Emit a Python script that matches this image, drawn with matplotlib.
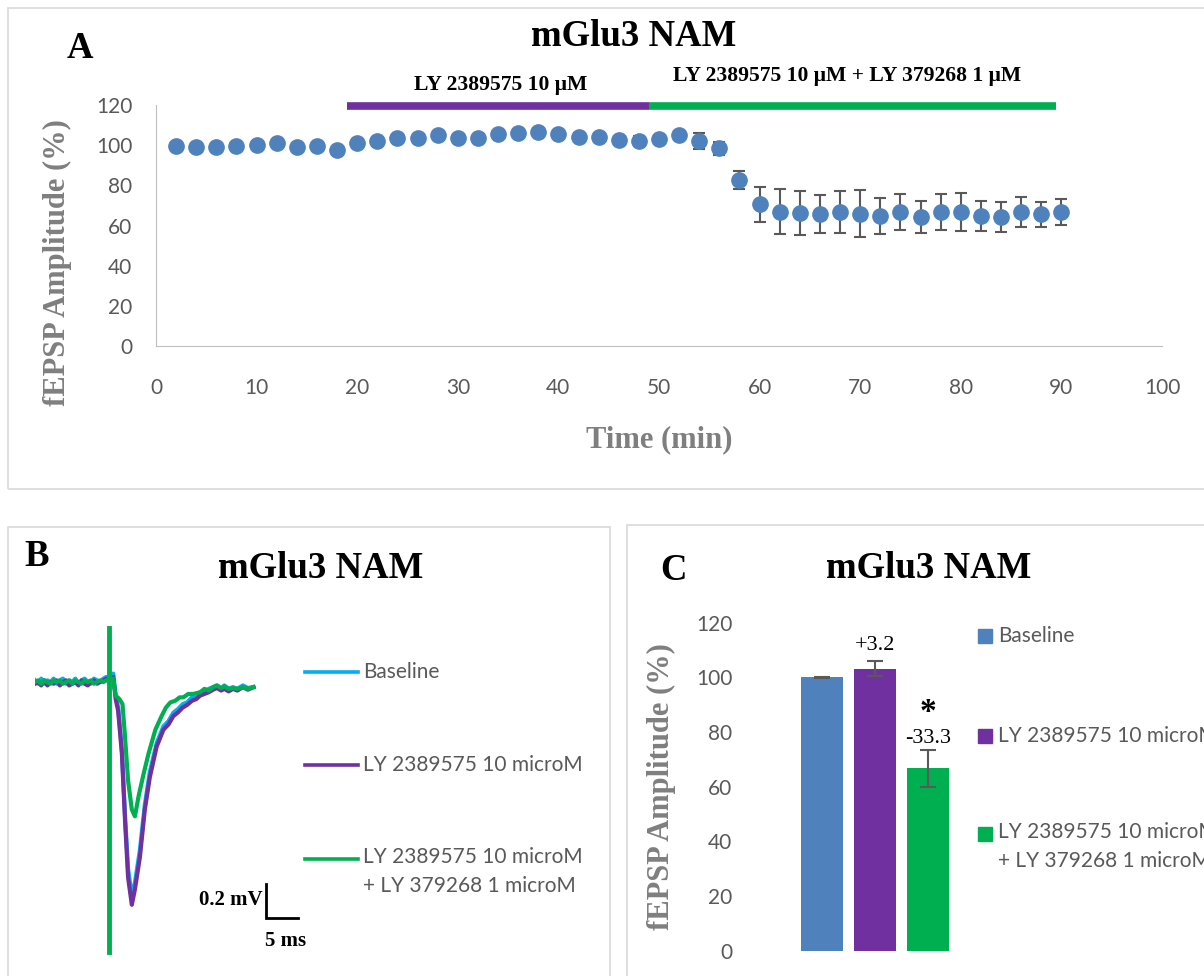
import matplotlib.pyplot as plt
from matplotlib.patches import Rectangle
from matplotlib.lines import Line2D

W, H = 1204, 976
SERIF = 'Liberation Serif'
SANS = 'Lato'
TICK_GRAY = '#595959'
LABEL_GRAY = '#7f7f7f'

# ---- panel A: time course ----
time_min = [2, 4, 6, 8, 10, 12, 14, 16, 18, 20, 22, 24, 26, 28, 30, 32, 34, 36, 38, 40, 42, 44, 46, 48,
            50, 52, 54, 56, 58, 60, 62, 64, 66, 68, 70, 72, 74, 76, 78, 80, 82, 84, 86, 88, 90]
amp_pct = [99.8, 98.9, 99.3, 99.8, 100.1, 101.2, 99.3, 99.8, 97.8, 100.9, 101.9, 103.7, 103.4, 105.0,
           103.4, 103.7, 105.5, 106.2, 106.5, 105.5, 104.2, 104.0, 102.7, 102.0,
           102.9, 105.3, 102.0, 98.4, 82.8, 70.5, 66.8, 66.3, 65.8, 66.7, 65.8, 64.7, 66.7, 64.2,
           66.7, 66.7, 64.7, 64.2, 66.7, 65.5, 66.8]
amp_sem = [0.5, 0.5, 0.5, 0.5, 0.5, 0.6, 0.5, 0.5, 0.6, 0.6, 0.7, 0.8, 0.8, 0.9, 1.5, 0.9, 0.9, 1.0,
           1.0, 1.0, 1.0, 1.0, 1.2, 2.5,
           1.0, 1.0, 4.1, 3.3, 4.4, 8.7, 11.2, 10.9, 9.5, 10.4, 11.7, 9.1, 9.0, 8.0, 8.8, 9.5, 7.5,
           7.3, 7.6, 6.4, 6.6]
drug_names = ['LY 2389575 10 μM', 'LY 2389575 10 μM + LY 379268 1 μM']
drug_start = [19, 49]
drug_end = [49, 89.5]
drug_colors = ['#7030A0', '#00B050']

# ---- panel B: example traces (ms, mV) ----
pre_t = [0, 0.5, 1.0, 1.5, 2.0, 2.5, 3.0, 3.5, 4.0, 4.5, 5.0, 5.5, 6.0, 6.5, 7.0, 7.5, 8.0, 8.5,
         9.0, 9.5, 10.0, 10.5, 11.0, 11.5]
pre_v_base = [0.01, -0.01, 0.02, -0.01, 0.01, 0.0, 0.02, -0.01, 0.01, 0.02, -0.01, 0.01, 0.0, 0.02,
              -0.01, 0.01, 0.02, 0.0, -0.01, 0.02, 0.01, 0.0, 0.02, 0.03]
pre_v_ly = [-0.01, 0.0, -0.02, 0.01, -0.02, 0.0, -0.01, 0.01, -0.02, 0.0, 0.01, -0.02, -0.01, 0.0,
            -0.02, 0.01, -0.01, -0.02, 0.0, 0.01, -0.01, 0.0, 0.01, 0.02]
pre_v_combo = [0.0, 0.01, -0.01, 0.01, 0.0, -0.01, 0.01, 0.0, 0.01, -0.01, 0.0, 0.01, -0.01, 0.01,
               0.0, -0.01, 0.01, 0.0, 0.01, -0.01, 0.0, 0.01, 0.0, 0.01]
resp_t = [12.0, 12.6, 13.0, 13.4, 14.0, 14.5, 15.0, 15.6, 16.1, 16.9, 17.7, 18.5, 19.6, 20.7, 21.5,
          22.3, 23.0, 23.8, 24.5, 25.3, 26.0, 26.6, 27.3, 28.0, 28.7, 29.3, 30.0, 30.5, 31.2, 31.9,
          32.6, 33.5, 34.3, 35.2]
resp_v_base = [0.02, 0.05, -0.08, -0.15, -0.40, -0.78, -1.10, -1.26, -1.18, -0.99, -0.72, -0.53,
               -0.36, -0.26, -0.23, -0.18, -0.16, -0.13, -0.12, -0.09, -0.09, -0.06, -0.06, -0.04,
               -0.03, -0.02, -0.04, -0.02, -0.04, -0.03, -0.04, -0.02, -0.035, -0.03]
resp_v_ly = [0.01, 0.03, -0.10, -0.17, -0.42, -0.81, -1.15, -1.31, -1.22, -1.03, -0.75, -0.56,
             -0.38, -0.28, -0.25, -0.20, -0.18, -0.15, -0.135, -0.11, -0.10, -0.08, -0.07, -0.06,
             -0.045, -0.035, -0.05, -0.04, -0.055, -0.04, -0.05, -0.03, -0.045, -0.03]
combo_resp_t = [12.0, 12.6, 13.0, 13.6, 14.1, 14.5, 15.0, 15.6, 16.1, 16.7, 17.5, 18.3, 19.4, 20.4,
                21.1, 21.8, 22.6, 23.3, 23.9, 24.7, 25.5, 26.6, 27.3, 28.0, 28.7, 29.3, 30.0, 30.5,
                31.2, 31.9, 32.6, 33.5, 34.3, 35.2]
resp_v_combo = [0.02, 0.02, -0.08, -0.10, -0.13, -0.32, -0.58, -0.75, -0.79, -0.67, -0.54, -0.42,
                -0.28, -0.20, -0.15, -0.12, -0.11, -0.09, -0.09, -0.07, -0.07, -0.06, -0.04, -0.05,
                -0.03, -0.02, -0.035, -0.025, -0.04, -0.035, -0.04, -0.03, -0.04, -0.03]
artifact_t = [11.9, 11.9]
artifact_v = [0.32, -1.59]
trace_names = ['Baseline', 'LY 2389575 10 microM', 'LY 2389575 10 microM\n+ LY 379268 1 microM']
trace_colors = ['#00B0F0', '#7030A0', '#00B050']
scale_ms = 5
scale_mv = 0.2

# ---- panel C: summary bars ----
bar_names = ['Baseline', 'LY 2389575 10 microM', 'LY 2389575 10 microM\n+ LY 379268 1 microM']
bar_mean = [100.0, 103.2, 66.7]
bar_sem = [0.3, 2.7, 6.8]
bar_change = ['', '+3.2', '-33.3']
bar_colors = ['#4F81BD', '#7030A0', '#00B050']
label_gap = [0, 5.8, 4.0]


def box(x0, y0, x1, y1):
    return [x0 / W, 1 - y1 / H, (x1 - x0) / W, (y1 - y0) / H]


def ftext(x, y, s, **kw):
    fig.text(x / W, 1 - y / H, s, **kw)


fig = plt.figure(figsize=(W / 100, H / 100), dpi=100)

# panel frames
for x0, y0, x1, y1 in [(8, 8, 1215, 489), (8, 527, 610, 990), (627, 525, 1215, 990)]:
    fig.add_artist(Rectangle((x0 / W, 1 - y1 / H), (x1 - x0) / W, (y1 - y0) / H,
                             transform=fig.transFigure, fill=False, edgecolor='#d9d9d9', lw=1.2))

# ---------------- A ----------------
axA = fig.add_axes(box(156, 105, 1162, 346))
axA.errorbar(time_min, amp_pct, yerr=amp_sem, fmt='o', ms=11, color='#4F81BD',
             ecolor='#595959', elinewidth=1.5, capsize=4.5, capthick=1.5, zorder=3)
for s, e, c in zip(drug_start, drug_end, drug_colors):
    axA.plot([s, e], [119.5, 119.5], color=c, lw=5.5, solid_capstyle='butt', clip_on=False)
ftext(501, 85, drug_names[0], ha='center', va='center', family=SERIF, weight='bold', fontsize=15.6)
ftext(847, 76, drug_names[1], ha='center', va='center', family=SERIF, weight='bold', fontsize=15.6)
axA.set_xlim(0, 100)
axA.set_ylim(0, 120)
axA.set_xticks(range(0, 101, 10))
axA.set_yticks(range(0, 121, 20))
axA.tick_params(length=0, labelsize=15, labelcolor=TICK_GRAY)
axA.tick_params(axis='y', pad=17)
axA.tick_params(axis='x', pad=23)
for lab in axA.get_xticklabels() + axA.get_yticklabels():
    lab.set_family(SANS)
for sp in ['top', 'right']:
    axA.spines[sp].set_visible(False)
for sp in ['left', 'bottom']:
    axA.spines[sp].set_color('#bfbfbf')
ftext(57, 263, 'fEPSP Amplitude (%)', rotation=90, ha='center', va='center', family=SERIF,
      weight='bold', fontsize=22, color=LABEL_GRAY)
ftext(659, 440, 'Time (min)', ha='center', va='center', family=SERIF, weight='bold', fontsize=22,
      color=LABEL_GRAY)
ftext(634, 37, 'mGlu3 NAM', ha='center', va='center', family=SERIF, weight='bold', fontsize=26.5)
ftext(80, 49, 'A', ha='center', va='center', family=SERIF, weight='bold', fontsize=26.5)

# ---------------- B ----------------
axB = fig.add_axes(box(35, 620, 300, 960))
axB.plot(pre_t + resp_t, pre_v_base + resp_v_base, color=trace_colors[0], lw=3)
axB.plot(pre_t + resp_t, pre_v_ly + resp_v_ly, color=trace_colors[1], lw=3)
axB.plot(pre_t + combo_resp_t, pre_v_combo + resp_v_combo, color=trace_colors[2], lw=3)
axB.plot(artifact_t, artifact_v, color=trace_colors[2], lw=3.5)
sb_t, sb_v = 37.3, -1.39
axB.plot([sb_t, sb_t, sb_t + scale_ms], [sb_v + scale_mv, sb_v, sb_v], color='black', lw=2,
         solid_joinstyle='miter')
axB.text(sb_t - 0.6, sb_v + scale_mv / 2 + 0.01, '%.1f mV' % scale_mv, ha='right', va='center',
         family=SERIF, weight='bold', fontsize=15)
axB.text(sb_t + 3.0, sb_v - 0.135, '%d ms' % scale_ms, ha='center', va='center',
         family=SERIF, weight='bold', fontsize=15)
axB.set_xlim(0, 42.7)
axB.set_ylim(-1.635, 0.365)
axB.axis('off')
for yy, name, c in zip([672, 765, 859], trace_names, trace_colors):
    fig.add_artist(Line2D([305 / W, 358 / W], [1 - yy / H, 1 - yy / H], color=c, lw=2.6,
                          transform=fig.transFigure))
    ftext(363, yy if '\n' not in name else yy - 12, name, ha='left',
          va='top' if '\n' in name else 'center', family=SANS, fontsize=15, color=TICK_GRAY,
          linespacing=1.55)
ftext(321, 569, 'mGlu3 NAM', ha='center', va='center', family=SERIF, weight='bold', fontsize=26.5)
ftext(37, 557, 'B', ha='center', va='center', family=SERIF, weight='bold', fontsize=26.5)

# ---------------- C ----------------
axC = fig.add_axes(box(742, 622.7, 970, 950.7))
xs = range(len(bar_mean))
axC.bar(xs, bar_mean, width=0.79, color=bar_colors)
axC.errorbar(xs, bar_mean, yerr=bar_sem, fmt='none', ecolor='#595959', elinewidth=1.5,
             capsize=5.5, capthick=1.5)
for x, m, e, lab, g in zip(xs, bar_mean, bar_sem, bar_change, label_gap):
    if lab:
        axC.text(x, m + e + g, lab, ha='center', va='center', family=SERIF, fontsize=16,
                 color='black')
axC.text(2, 81.5, '*', ha='center', va='bottom', family=SERIF, weight='bold', fontsize=24)
axC.set_xlim(-1.509, 2.792)
axC.set_ylim(0, 120)
axC.set_xticks([])
axC.set_yticks(range(0, 121, 20))
axC.tick_params(length=0, labelsize=15, labelcolor=TICK_GRAY, pad=7)
for lab in axC.get_yticklabels():
    lab.set_family(SANS)
for sp in axC.spines.values():
    sp.set_visible(False)
ftext(661, 787, 'fEPSP Amplitude (%)', rotation=90, ha='center', va='center', family=SERIF,
      weight='bold', fontsize=22, color=LABEL_GRAY)
for yy, name, c in zip([636, 736, 834], bar_names, bar_colors):
    fig.add_artist(Rectangle((978 / W, 1 - (yy + 7) / H), 14 / W, 14 / H, color=c,
                             transform=fig.transFigure))
    ftext(998, yy if '\n' not in name else yy - 12, name, ha='left',
          va='top' if '\n' in name else 'center', family=SANS, fontsize=15, color=TICK_GRAY,
          linespacing=1.55)
ftext(929, 569, 'mGlu3 NAM', ha='center', va='center', family=SERIF, weight='bold', fontsize=26.5)
ftext(674, 570, 'C', ha='center', va='center', family=SERIF, weight='bold', fontsize=26.5)

fig.savefig('out.png', dpi=100)
